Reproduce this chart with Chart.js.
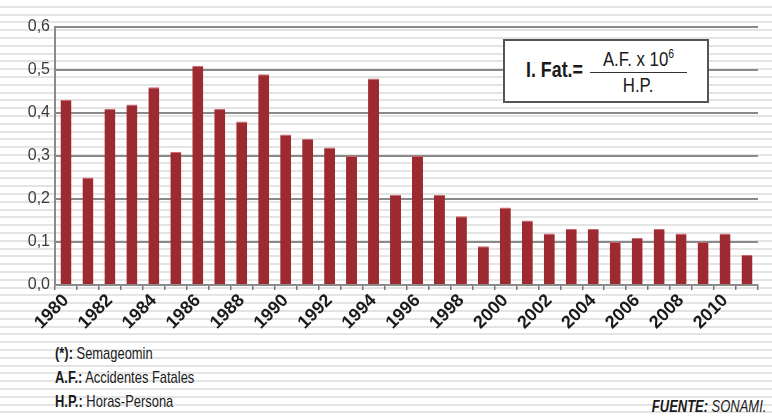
<!DOCTYPE html>
<html>
<head>
<meta charset="utf-8">
<script src="https://cdn.jsdelivr.net/npm/chart.js@4"></script>
<style>
  html, body { margin: 0; padding: 0; }
  body {
    width: 772px; height: 418px; position: relative; overflow: hidden;
    background: #fff repeating-linear-gradient(to bottom, #fff 0px, #fff 5.8px, #e4e4e4 5.8px, #e4e4e4 7.8px);
    font-family: "Liberation Sans", Arial, sans-serif;
    color: #1a1a1a;
  }
  #wrap { position: absolute; left: 0; top: 0; width: 772px; height: 340px; }
  #formula {
    position: absolute; left: 503px; top: 39px; width: 202px; height: 60px;
    background: #fff; border: 2px solid #555;
  }
  #formula .lhs { position: absolute; left: 21px; top: 16px; font-weight: bold; font-size: 22px; white-space: nowrap;
    transform: scaleX(0.81); transform-origin: left center; }
  #formula .frac { position: absolute; left: 85px; top: 5px; width: 97px; text-align: center; font-size: 21px; }
  #formula .num { border-bottom: 1.5px solid #333; padding-bottom: 1px; white-space: nowrap; }
  #formula .num span, #formula .den span { display: inline-block; transform: scaleX(0.8); }
  #formula .den { padding-top: 0px; }
  .note { position: absolute; left: 55px; font-size: 17px; white-space: nowrap;
    transform: scaleX(0.76); transform-origin: left center; }
  #src { position: absolute; right: 6px; top: 398px; font-size: 16px; font-style: italic; white-space: nowrap;
    transform: scaleX(0.81); transform-origin: right center; }
</style>
</head>
<body>
<div id="wrap"><canvas id="chart"></canvas></div>
<div id="formula">
  <span class="lhs">I. Fat.=</span>
  <div class="frac"><div class="num"><span>A.F. x 10<sup style="font-size:13px">6</sup></span></div><div class="den"><span>H.P.</span></div></div>
</div>
<div class="note" style="top:344px"><b>(*):</b> Semageomin</div>
<div class="note" style="top:368px"><b>A.F.:</b> Accidentes Fatales</div>
<div class="note" style="top:392px"><b>H.P.:</b> Horas-Persona</div>
<div id="src"><b>FUENTE:</b> SONAMI.</div>
<script>
const years = ["1980","1981","1982","1983","1984","1985","1986","1987","1988","1989",
  "1990","1991","1992","1993","1994","1995","1996","1997","1998","1999",
  "2000","2001","2002","2003","2004","2005","2006","2007","2008","2009","2010","2011"];
const fatalityIndex = [0.43, 0.25, 0.41, 0.42, 0.46, 0.31, 0.51, 0.41, 0.38, 0.49,
  0.35, 0.34, 0.32, 0.30, 0.48, 0.21, 0.30, 0.21, 0.16, 0.09,
  0.18, 0.15, 0.12, 0.13, 0.13, 0.10, 0.11, 0.13, 0.12, 0.10, 0.12, 0.07];
const yTicks = [0, 0.1, 0.2, 0.3, 0.4, 0.5, 0.6];

const FONT = '"Liberation Sans", Arial, sans-serif';

new Chart(document.getElementById("chart"), {
  type: "bar",
  data: {
    labels: years,
    datasets: [{
      data: fatalityIndex,
      backgroundColor: "#9d2a31",
      borderColor: "#c8666b",
      borderWidth: { top: 1, left: 0, right: 0, bottom: 0 },
      borderSkipped: "bottom",
      barPercentage: 0.5,
      categoryPercentage: 1
    }]
  },
  options: {
    responsive: true,
    maintainAspectRatio: false,
    animation: false,
    layout: { padding: { top: 27, right: 14, left: 0, bottom: 0 } },
    plugins: { legend: { display: false }, tooltip: { enabled: false } },
    scales: {
      x: {
        afterFit: s => { s.height = 55; },
        grid: { drawOnChartArea: false, tickLength: 5, color: "#777", lineWidth: 1.5, offset: true },
        border: { color: "#8a8a8a", width: 2 },
        ticks: {
          autoSkip: false,
          minRotation: 45, maxRotation: 45,
          padding: 0,
          color: "#1a1a1a",
          font: { family: FONT, size: 18, weight: "bold" },
          callback: (v, i) => i % 2 === 0 ? years[i] : ""
        }
      },
      y: {
        min: 0, max: 0.6,
        afterFit: s => { s.width = 55; },
        afterBuildTicks: s => { s.ticks = yTicks.map(v => ({ value: v })); },
        grid: { color: "#8a8a8a", lineWidth: 2, drawTicks: false },
        border: { color: "#8a8a8a", width: 2 },
        ticks: {
          padding: 5,
          color: "#3a3a3a",
          font: { family: FONT, size: 16 },
          callback: v => v.toFixed(1).replace(".", ",")
        }
      }
    }
  }
});
</script>
</body>
</html>
